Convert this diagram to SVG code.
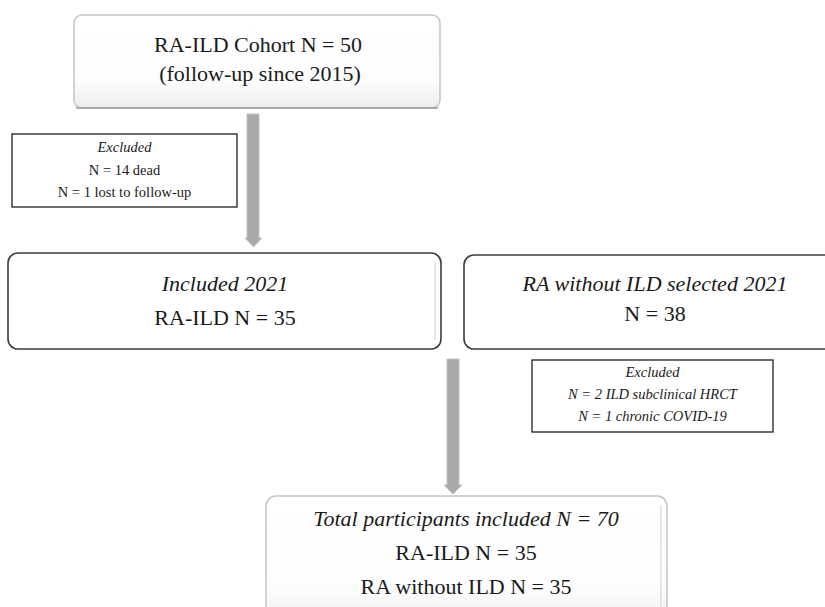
<svg xmlns="http://www.w3.org/2000/svg" width="825" height="607" viewBox="0 0 825 607">
<defs>
<linearGradient id="soft" x1="0" y1="0" x2="0" y2="1">
<stop offset="0" stop-color="#ffffff"/>
<stop offset="0.7" stop-color="#fdfdfd"/>
<stop offset="1" stop-color="#ededed"/>
</linearGradient>
</defs>
<style>
.t{fill:#1a1a1a;text-anchor:middle}
.big{font-size:22px}
.small{font-size:14.5px}
.it{font-style:italic}
.soft{fill:url(#soft);stroke:#c4c4c4;stroke-width:1.5}
.shadow{fill:none;stroke:#9a9a9a;stroke-width:1.5}
.dark{fill:#ffffff;stroke:#3c3c3c;stroke-width:1.6}
.inner{fill:none;stroke:#e6e6e6;stroke-width:2}
.excl{fill:#ffffff;stroke:#1e1e1e;stroke-width:1.3}
.arrow{fill:#a9a9a9;stroke:#c2c2c2;stroke-width:1}
</style>
<rect width="825" height="607" fill="#ffffff"/>
<g id="connectors">
<path class="arrow" d="M247,114 H259 V238 H262 L253.5,247 L245,238 H247 Z"/>
<path class="arrow" d="M447,359 H459 V485 H462 L453,494 L444,485 H447 Z"/>
</g>
<g font-family="Liberation Serif, serif">
<g id="cohort">
<rect class="soft" x="74" y="15" width="366" height="93" rx="8"/>
<path class="shadow" d="M76,108 H438"/>
<text class="t big" x="258" y="52">RA-ILD Cohort N = 50</text>
<text class="t big" x="260" y="81">(follow-up since 2015)</text>
</g>
<g id="excluded1">
<rect class="excl" x="12" y="134" width="225" height="73"/>
<text class="t small it" x="124.5" y="152">Excluded</text>
<text class="t small" x="124.5" y="175">N = 14 dead</text>
<text class="t small" x="124.5" y="197">N = 1 lost to follow-up</text>
</g>
<g id="included">
<rect class="dark" x="8" y="253" width="433" height="96" rx="10"/>
<path class="inner" d="M435,262 V340"/>
<text class="t big it" x="225" y="291">Included 2021</text>
<text class="t big" x="225" y="325">RA-ILD N = 35</text>
</g>
<g id="ra-without-ild">
<rect class="dark" x="464" y="255" width="380" height="94" rx="10"/>
<text class="t big it" x="655" y="291">RA without ILD selected 2021</text>
<text class="t big" x="655" y="321">N = 38</text>
</g>
<g id="excluded2">
<rect class="excl" x="532" y="360" width="241" height="72"/>
<text class="t small it" x="652.5" y="377">Excluded</text>
<text class="t small it" x="652.5" y="399">N = 2 ILD subclinical HRCT</text>
<text class="t small it" x="652.5" y="421">N = 1 chronic COVID-19</text>
</g>
<g id="total">
<rect class="soft" x="266" y="496" width="401" height="130" rx="10"/>
<path class="inner" d="M661,505 V607"/>
<text class="t big it" x="466" y="526">Total participants included N = 70</text>
<text class="t big" x="466" y="560">RA-ILD N = 35</text>
<text class="t big" x="466" y="594">RA without ILD N = 35</text>
</g>
</g>
</svg>
